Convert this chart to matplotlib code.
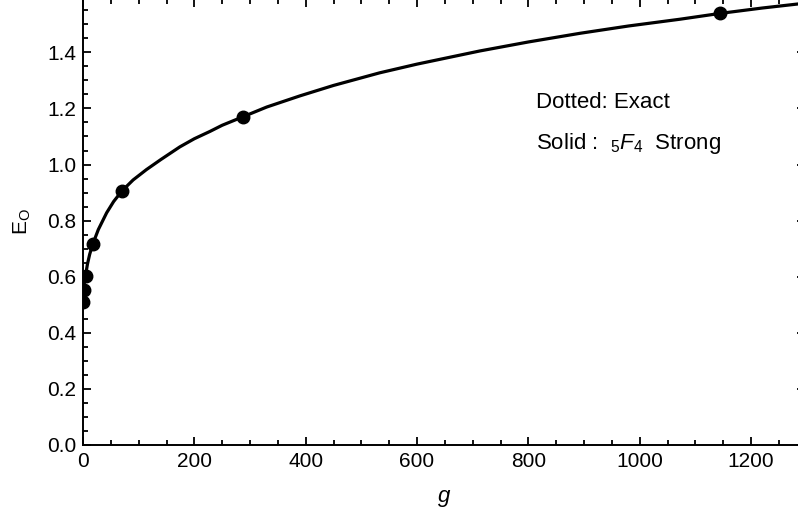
import matplotlib
matplotlib.use("Agg")
import matplotlib.pyplot as plt
from matplotlib.ticker import MultipleLocator

plt.rcParams['font.family'] = ['Liberation Sans', 'DejaVu Sans']
plt.rcParams['mathtext.fontset'] = 'custom'
plt.rcParams['mathtext.rm'] = 'Liberation Sans'
plt.rcParams['mathtext.it'] = 'Liberation Sans:italic'
plt.rcParams['mathtext.bf'] = 'Liberation Sans:bold'

# Solid curve (5F4 strong-coupling approximant)
curve_g = [0, 0.28, 1.1, 2.5, 4.5, 8, 12, 17.5, 27.5, 42.5, 55, 70, 90, 114,
           140, 174, 200, 228, 250, 287, 330, 390, 450, 533, 600, 713, 800,
           893, 980, 1072, 1145, 1220, 1300]
curve_E = [0.500, 0.511, 0.553, 0.580, 0.604, 0.645, 0.680, 0.716, 0.768, 0.828,
           0.868, 0.906, 0.945, 0.982, 1.018, 1.063, 1.092, 1.118, 1.140, 1.170,
           1.205, 1.245, 1.282, 1.327, 1.358, 1.405, 1.437, 1.468, 1.494, 1.518,
           1.539, 1.558, 1.576]

# Dotted: exact values (markers)
exact_g = [0.28, 1.1, 4.5, 17.5, 70, 287, 1145]
exact_E = [0.511, 0.553, 0.604, 0.716, 0.906, 1.170, 1.539]

fig = plt.figure(figsize=(7.98, 5.29), dpi=100)
W, H = 798, 529
ax = fig.add_axes([83 / W, (H - 445) / H, (805 - 83) / W, (445 + 1.5) / H])

ax.plot(curve_g, curve_E, color='black', lw=2.3, solid_capstyle='round',
        solid_joinstyle='round', zorder=3)
ax.plot(exact_g, exact_E, 'o', color='black', ms=9, zorder=4, clip_on=True)

ax.set_xlim(0, 1297)
ax.set_ylim(0, 1.592)
ax.xaxis.set_major_locator(MultipleLocator(200))
ax.xaxis.set_minor_locator(MultipleLocator(50))
ax.yaxis.set_major_locator(MultipleLocator(0.2))
ax.yaxis.set_minor_locator(MultipleLocator(0.05))
ax.yaxis.set_major_formatter(matplotlib.ticker.FormatStrFormatter('%.1f'))

for s in ax.spines.values():
    s.set_linewidth(1.4)
ax.tick_params(which='both', direction='in', top=True, right=True, width=1.3,
               labelsize=15, colors='black')
ax.tick_params(which='major', length=6, pad=5)
ax.tick_params(which='minor', length=3.5)

ax.set_xlabel('$g$', fontsize=16, labelpad=12)
ax.set_ylabel(r'E$_{\mathrm{O}}$', fontsize=15, labelpad=10)

ax.text(536, 103, 'Dotted: Exact', transform=None, fontsize=16, va='center', ha='left')
ax.text(536, 143, r'Solid :  ${}_{5}F_{4}$  Strong', transform=None, fontsize=16,
        va='center', ha='left')

# convert pixel coords (from top) to display coords
for t in ax.texts:
    x, y = t.get_position()
    t.set_position((x, H - y))

fig.savefig('out.png', dpi=100)
